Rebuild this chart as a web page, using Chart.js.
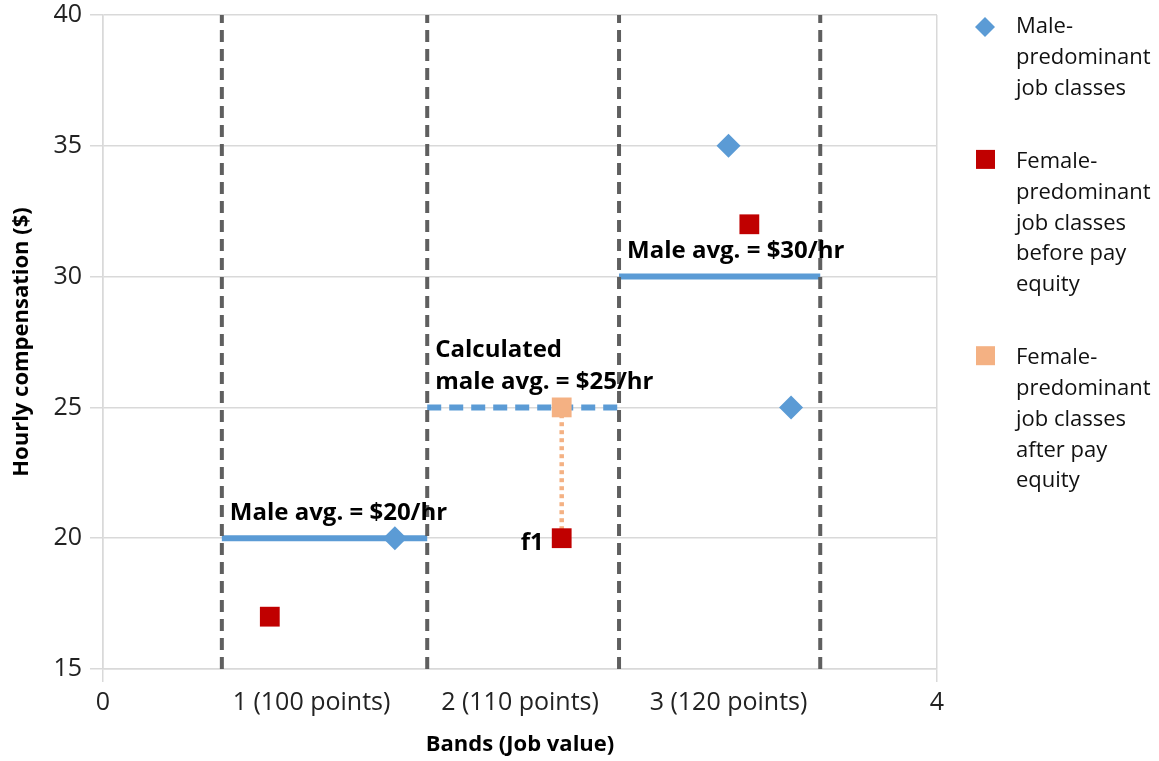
<!DOCTYPE html>
<html>
<head>
<meta charset="utf-8">
<script src="https://cdn.jsdelivr.net/npm/chart.js@4"></script>
<style>
  html, body { margin: 0; padding: 0; background: #fff; }
  #wrap { width: 1159px; height: 761px; position: relative; }
</style>
</head>
<body>
<div id="wrap"><canvas id="chart"></canvas></div>
<script>
// --- data ---
const xTickLabels   = ["0", "1 (100 points)", "2 (110 points)", "3 (120 points)", "4"];
const maleX         = [1.4, 3.0, 3.3];
const maleY         = [20, 35, 25];
const femBeforeX    = [0.8, 2.2, 3.1];
const femBeforeY    = [17, 20, 32];
const femAfterX     = [2.2];
const femAfterY     = [25];
const bandEdges     = [0.57, 1.555, 2.475, 3.44];
const bandAvg       = [20, 25, 30];
const bandAvgCalc   = [false, true, false];
const avgLabels     = [["Male avg. = $20/hr"], ["Calculated", "male avg. = $25/hr"], ["Male avg. = $30/hr"]];
const legendLabels  = [
  ["Male-", "predominant", "job classes"],
  ["Female-", "predominant", "job classes", "before pay", "equity"],
  ["Female-", "predominant", "job classes", "after pay", "equity"]
];

const BLUE  = "#5b9bd5";
const RED   = "#c00000";
const PEACH = "#f4b183";
const GRID  = "#d9d9d9";
const FONT  = "'Open Sans', sans-serif";

const pts = (xs, ys) => xs.map((x, i) => ({ x, y: ys[i] }));

const datasets = [
  { label: "Male", data: pts(maleX, maleY), pointStyle: "rectRot", pointRadius: 12,
    backgroundColor: BLUE, borderColor: BLUE, borderWidth: 0, order: 0 },
  { label: "Female before", data: pts(femBeforeX, femBeforeY), pointStyle: "rect", pointRadius: 14,
    backgroundColor: RED, borderColor: RED, borderWidth: 0, order: 0 },
  { label: "Female after", data: pts(femAfterX, femAfterY), pointStyle: "rect", pointRadius: 14,
    backgroundColor: PEACH, borderColor: PEACH, borderWidth: 0, order: 0 },
  // connector from f1 up to its adjusted pay
  { type: "line", data: [{ x: femBeforeX[1], y: femBeforeY[1] }, { x: femAfterX[0], y: femAfterY[0] }],
    borderColor: PEACH, borderWidth: 4.5, borderDash: [4, 4], pointRadius: 0, order: 1 }
];

// band divider lines
bandEdges.forEach(e => {
  datasets.push({ type: "line", data: [{ x: e, y: 15 }, { x: e, y: 40 }],
    borderColor: "#5f5f5f", borderWidth: 4, borderDash: [12, 7], pointRadius: 0, order: 1 });
});

// male average lines per band
bandAvg.forEach((v, i) => {
  datasets.push({ type: "line", data: [{ x: bandEdges[i], y: v }, { x: bandEdges[i + 1], y: v }],
    borderColor: BLUE, borderWidth: 6, borderDash: bandAvgCalc[i] ? [14, 8] : [],
    pointRadius: 0, order: 2 });
});

const labelsPlugin = {
  id: "labels",
  afterDraw(chart) {
    const { ctx, scales: { x, y }, chartArea } = chart;
    ctx.save();
    ctx.fillStyle = "#000";
    ctx.font = "bold 24px " + FONT;
    ctx.textBaseline = "middle";
    ctx.textAlign = "left";
    avgLabels.forEach((lines, i) => {
      const px = x.getPixelForValue(bandEdges[i]) + 8;
      const py = y.getPixelForValue(bandAvg[i]) - 25;
      lines.slice().reverse().forEach((t, k) => ctx.fillText(t, px, py - k * 32));
    });
    ctx.textAlign = "right";
    ctx.fillText("f1", x.getPixelForValue(femBeforeX[1]) - 18, y.getPixelForValue(femBeforeY[1]) + 5);

    // legend
    const mx = chartArea.right + 48, tx = chartArea.right + 79;
    const colors = [BLUE, RED, PEACH];
    let ty = chartArea.top + 12;
    ctx.font = "22px " + FONT;
    ctx.textAlign = "left";
    legendLabels.forEach((lines, i) => {
      ctx.fillStyle = colors[i];
      if (i === 0) {
        ctx.beginPath();
        ctx.moveTo(mx, ty - 10); ctx.lineTo(mx + 10, ty); ctx.lineTo(mx, ty + 10); ctx.lineTo(mx - 10, ty);
        ctx.closePath(); ctx.fill();
      } else {
        ctx.fillRect(mx - 9, ty - 12, 19, 19);
      }
      ctx.fillStyle = "#111";
      lines.forEach((t, k) => ctx.fillText(t, tx, ty + k * 30.7));
      ty += (lines.length - 1) * 30.7 + 73.5;
    });
    ctx.restore();
  }
};

new Chart(document.getElementById("chart"), {
  type: "scatter",
  data: { datasets },
  options: {
    responsive: true,
    maintainAspectRatio: false,
    animation: false,
    events: [],
    layout: { padding: { top: 15, right: 222, left: 0, bottom: 0 } },
    plugins: { legend: { display: false }, tooltip: { enabled: false } },
    scales: {
      x: {
        type: "linear", min: 0, max: 4,
        afterFit: s => { s.height = 92; s.paddingLeft = 0; s.paddingRight = 0; },
        ticks: { stepSize: 1, autoSkip: false, maxRotation: 0, padding: 6,
          color: "#222", font: { family: FONT, size: 25 },
          callback: v => xTickLabels[v] },
        grid: { color: c => (c.tick && (c.tick.value === 0 || c.tick.value === 4)) ? GRID : "transparent",
          tickLength: 13, lineWidth: 1.5 },
        border: { color: GRID, width: 1.5 },
        title: { display: true, text: "Bands (Job value)", color: "#000",
          font: { family: FONT, size: 22, weight: "bold" }, padding: { top: 0, bottom: 3 } }
      },
      y: {
        min: 15, max: 40,
        afterFit: s => { s.width = 103; s.paddingTop = 0; s.paddingBottom = 0; },
        ticks: { stepSize: 5, padding: 8, color: "#222", font: { family: FONT, size: 25 } },
        grid: { color: GRID, tickLength: 13, lineWidth: 1.5 },
        border: { color: GRID, width: 1.5 },
        title: { display: true, text: "Hourly compensation ($)", color: "#000",
          font: { family: FONT, size: 22, weight: "bold" }, padding: { top: 9, bottom: 0 } }
      }
    }
  },
  plugins: [labelsPlugin]
});
</script>
</body>
</html>
